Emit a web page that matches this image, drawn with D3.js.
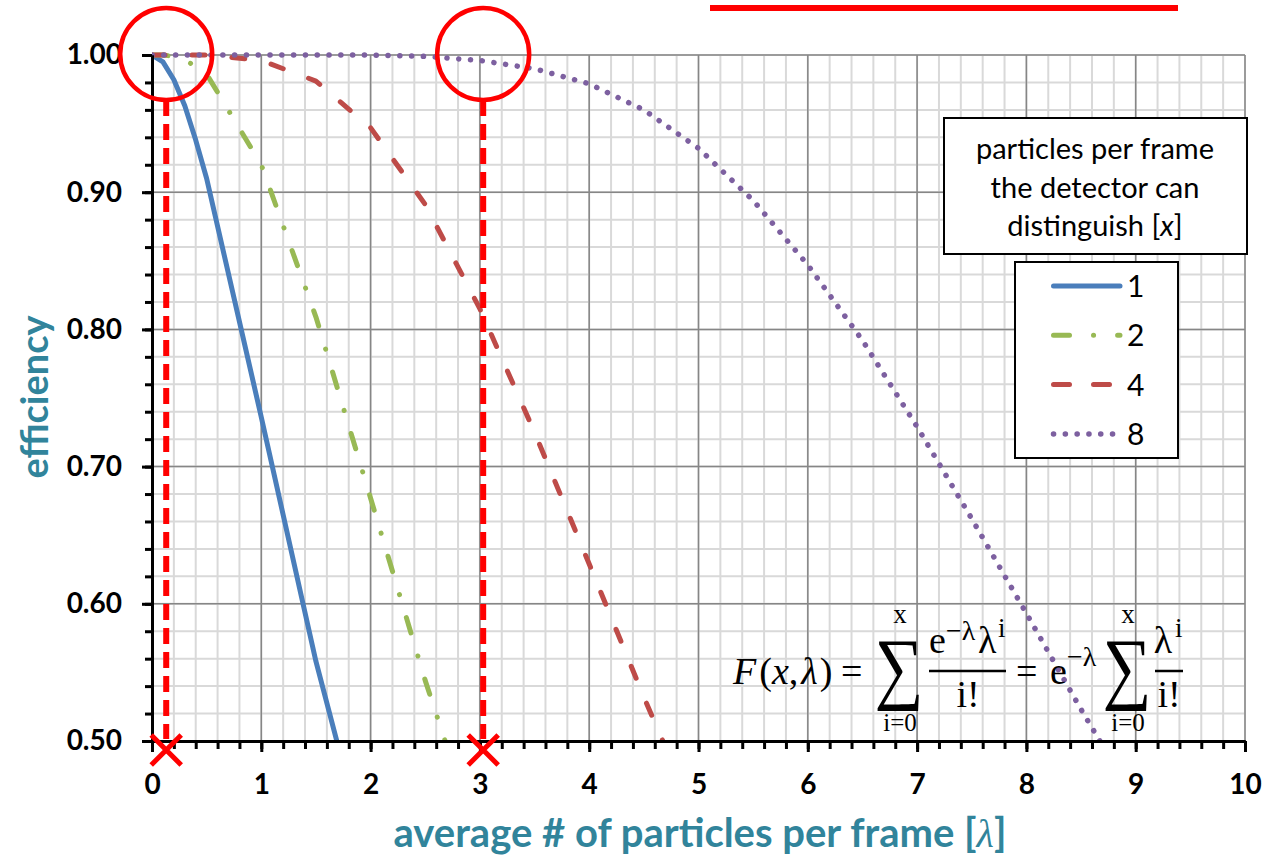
<!DOCTYPE html>
<html>
<head>
<meta charset="utf-8">
<script src="https://cdn.jsdelivr.net/npm/d3@7"></script>
<style>
body { margin: 0; background: #fff; }
text { font-family: Lato, "Open Sans", sans-serif; }
.math { font-family: "Liberation Serif", "DejaVu Serif", serif; }
</style>
</head>
<body>
<div id="viz"></div>
<script>
var width = 1274, height = 857;
var plotLeft = 152, plotRight = 1245, plotTop = 55, plotBottom = 741;

// average particles per frame (lambda)
var lambdas = [0, 0.1, 0.2, 0.3, 0.4, 0.5, 1, 1.5, 2, 2.5, 3, 3.5, 4, 4.5, 5, 5.5, 6, 6.5, 7, 7.5, 8, 8.5, 9];
// efficiency for x = 1, 2, 4, 8 particles per frame
var eff1 = [1.000, 0.995, 0.982, 0.963, 0.938, 0.910, 0.736, 0.558, 0.406, null, null, null, null, null, null, null, null, null, null, null, null, null, null];
var eff2 = [1.000, 1.000, 0.999, 0.996, 0.992, 0.986, 0.920, 0.809, 0.677, 0.544, 0.423, null, null, null, null, null, null, null, null, null, null, null, null];
var eff4 = [1.000, 1.000, 1.000, 1.000, 1.000, 1.000, 0.996, 0.981, 0.947, 0.891, 0.815, 0.725, 0.629, 0.532, 0.440, null, null, null, null, null, null, null, null];
var eff8 = [1.000, 1.000, 1.000, 1.000, 1.000, 1.000, 1.000, 1.000, 1.000, 0.999, 0.996, 0.990, 0.979, 0.960, 0.932, 0.894, 0.847, 0.792, 0.729, 0.662, 0.593, 0.523, 0.456];

var seriesNames = ["1", "2", "4", "8"];
var seriesValues = [eff1, eff2, eff4, eff8];
var seriesColors = ["#4a7ebb", "#98b954", "#be4b48", "#7d60a0"];
var seriesDash = [null, "16,24,0.1,24", "13,27", "0.1,11.7"];
var legendDash = [null, "16,24,0.1,24", "16,24", "0.1,11.7"];
var seriesWidth = [5, 5, 5, 5.5];

var xTickValues = [0, 1, 2, 3, 4, 5, 6, 7, 8, 9, 10];
var yTickValues = [0.5, 0.6, 0.7, 0.8, 0.9, 1.0];
var markedLambdas = [0.13, 3.03];
var legendTitle = ["particles per frame", "the detector can", "distinguish [x]"];

var x = d3.scaleLinear().domain([0, 10]).range([plotLeft, plotRight]);
var y = d3.scaleLinear().domain([0.5, 1]).range([plotBottom, plotTop]);

var svg = d3.select("#viz").append("svg")
	.attr("width", width)
	.attr("height", height);

svg.append("defs").append("clipPath")
	.attr("id", "plotclip")
	.append("rect")
	.attr("x", plotLeft).attr("y", plotTop - 15)
	.attr("width", plotRight - plotLeft).attr("height", plotBottom - plotTop + 15);

// grid
var minorX = x.ticks(50), minorY = y.ticks(25);
svg.append("g").selectAll("line")
	.data(minorX)
	.enter().append("line")
	.attr("x1", function(d) { return x(d); }).attr("x2", function(d) { return x(d); })
	.attr("y1", plotTop).attr("y2", plotBottom)
	.attr("stroke", "#d9d9d9").attr("stroke-width", 2);
svg.append("g").selectAll("line")
	.data(minorY)
	.enter().append("line")
	.attr("y1", function(d) { return y(d); }).attr("y2", function(d) { return y(d); })
	.attr("x1", plotLeft).attr("x2", plotRight)
	.attr("stroke", "#d9d9d9").attr("stroke-width", 2);
svg.append("g").selectAll("line")
	.data(xTickValues)
	.enter().append("line")
	.attr("x1", function(d) { return x(d); }).attr("x2", function(d) { return x(d); })
	.attr("y1", plotTop).attr("y2", plotBottom)
	.attr("stroke", "#868686").attr("stroke-width", 1.5);
svg.append("g").selectAll("line")
	.data(yTickValues)
	.enter().append("line")
	.attr("y1", function(d) { return y(d); }).attr("y2", function(d) { return y(d); })
	.attr("x1", plotLeft).attr("x2", plotRight)
	.attr("stroke", "#868686").attr("stroke-width", 1.5);

// curves
var line = d3.line()
	.defined(function(d) { return d[1] != null; })
	.x(function(d) { return x(d[0]); })
	.y(function(d) { return y(d[1]); });

var curves = svg.append("g").attr("clip-path", "url(#plotclip)");
seriesValues.forEach(function(vals, i) {
	var pts = lambdas.map(function(l, j) { return [l, vals[j]]; });
	curves.append("path")
		.attr("d", line(pts))
		.attr("fill", "none")
		.attr("stroke", seriesColors[i])
		.attr("stroke-width", seriesWidth[i])
		.attr("stroke-linecap", "round")
		.attr("stroke-linejoin", "round")
		.attr("stroke-dasharray", seriesDash[i]);
});

// axes
var yAxis = d3.axisLeft(y).tickValues(yTickValues).tickFormat(d3.format(".2f"))
	.tickSize(10).tickSizeOuter(0).tickPadding(20);
var yMinor = d3.axisLeft(y).tickValues(minorY).tickFormat("").tickSize(7).tickSizeOuter(0);
var xAxis = d3.axisBottom(x).tickValues(xTickValues).tickFormat(d3.format("d"))
	.tickSize(11).tickSizeOuter(0).tickPadding(22);
var xMinor = d3.axisBottom(x).tickValues(minorX).tickFormat("").tickSize(8).tickSizeOuter(0);

[[yMinor, "translate(" + plotLeft + ",0)"], [yAxis, "translate(" + plotLeft + ",0)"],
 [xMinor, "translate(0," + plotBottom + ")"], [xAxis, "translate(0," + plotBottom + ")"]].forEach(function(a) {
	var g = svg.append("g").attr("transform", a[1]).call(a[0]);
	g.select(".domain").attr("stroke", "#000").attr("stroke-width", 3);
	g.selectAll(".tick line").attr("stroke", "#000").attr("stroke-width", 3);
	g.selectAll("text")
		.style("font-family", "Lato, sans-serif")
		.style("font-weight", "bold")
		.style("font-size", "28px")
		.attr("fill", "#000");
});

// axis titles
svg.append("text")
	.attr("transform", "translate(48,397) rotate(-90)")
	.attr("text-anchor", "middle")
	.style("font-weight", "bold").style("font-size", "38px")
	.attr("fill", "#31849b")
	.text("efficiency");

var xt = svg.append("text")
	.attr("x", 700).attr("y", 847)
	.attr("text-anchor", "middle")
	.style("font-weight", "bold").style("font-size", "40px")
	.attr("fill", "#31849b");
xt.append("tspan").text("average # of particles per frame [");
xt.append("tspan").attr("class", "math").style("font-style", "italic").style("font-weight", "normal").text("λ");
xt.append("tspan").text("]");

// legend
svg.append("rect")
	.attr("x", 944).attr("y", 118).attr("width", 303).attr("height", 136)
	.attr("fill", "#fff").attr("stroke", "#000").attr("stroke-width", 2);
legendTitle.forEach(function(t, i) {
	var tx = svg.append("text")
		.attr("x", 1095).attr("y", 159 + i * 38.5)
		.attr("text-anchor", "middle")
		.style("font-size", "29px").attr("fill", "#000");
	if (i == 2) {
		tx.append("tspan").text("distinguish [");
		tx.append("tspan").style("font-style", "italic").text("x");
		tx.append("tspan").text("]");
	} else {
		tx.text(t);
	}
});
svg.append("rect")
	.attr("x", 1015).attr("y", 262).attr("width", 163).attr("height", 196)
	.attr("fill", "#fff").attr("stroke", "#000").attr("stroke-width", 2);
seriesNames.forEach(function(n, i) {
	var ly = 286 + i * 49.3;
	svg.append("line")
		.attr("x1", 1053.5).attr("x2", i == 3 ? 1115 : 1120)
		.attr("y1", ly).attr("y2", ly)
		.attr("stroke", seriesColors[i])
		.attr("stroke-width", seriesWidth[i])
		.attr("stroke-linecap", "round")
		.attr("stroke-dasharray", legendDash[i]);
	svg.append("text")
		.attr("x", 1127).attr("y", ly + 11)
		.style("font-size", "30px").attr("fill", "#000")
		.text(n);
});

// formula
var f = svg.append("g").attr("class", "math").attr("fill", "#000");
function mt(tx, ty, s, size, anchor, italic) {
	return f.append("text")
		.attr("class", "math")
		.attr("x", tx).attr("y", ty)
		.attr("text-anchor", anchor || "start")
		.style("font-size", size + "px")
		.style("font-style", italic ? "italic" : "normal")
		.text(s);
}
function sigma(cx) {
	f.append("text")
		.attr("class", "math")
		.attr("transform", "translate(" + cx + ",694) scale(0.86,1)")
		.attr("text-anchor", "middle")
		.style("font-size", "80px")
		.text("∑");
	mt(cx + 1, 623, "x", 27, "middle");
	mt(cx + 1, 731, "i=0", 25, "middle");
}
var lhs = f.append("text").attr("class", "math").attr("x", 733).attr("y", 684).style("font-size", "38px");
lhs.append("tspan").style("font-style", "italic").text("F");
lhs.append("tspan").attr("dx", 3).text("(");
lhs.append("tspan").style("font-style", "italic").text("x");
lhs.append("tspan").text(",");
lhs.append("tspan").attr("dx", 3).style("font-style", "italic").text("λ");
lhs.append("tspan").attr("dx", 2).text(")");
mt(841, 684, "=", 38);
sigma(899);
mt(929, 653, "e", 38);
mt(946, 640, "−λ", 28);
mt(978, 653, "λ", 38);
mt(998, 637, "i", 27);
f.append("line").attr("x1", 929).attr("x2", 1006).attr("y1", 671).attr("y2", 671)
	.attr("stroke", "#000").attr("stroke-width", 2.5);
mt(968, 707, "i!", 38, "middle");
mt(1016, 684, "=", 38);
mt(1050, 684, "e", 38);
mt(1067, 666, "−λ", 28);
sigma(1127);
mt(1163, 653, "λ", 38, "middle");
mt(1175, 637, "i", 27);
f.append("line").attr("x1", 1155).attr("x2", 1183).attr("y1", 671).attr("y2", 671)
	.attr("stroke", "#000").attr("stroke-width", 2.5);
mt(1169, 707, "i!", 38, "middle");

// annotations
var ann = svg.append("g");
markedLambdas.forEach(function(l) {
	var cx = x(l);
	ann.append("circle")
		.attr("cx", cx).attr("cy", 54).attr("r", 46)
		.attr("fill", "none").attr("stroke", "#ff0000").attr("stroke-width", 4.5);
	ann.append("line")
		.attr("x1", cx).attr("x2", cx).attr("y1", 100).attr("y2", plotBottom - 2)
		.attr("stroke", "#ff0000").attr("stroke-width", 6)
		.attr("stroke-dasharray", "16,8");
	ann.append("path")
		.attr("d", "M" + (cx - 15) + "," + (750 - 15) + "L" + (cx + 15) + "," + (750 + 15) +
			"M" + (cx + 15) + "," + (750 - 15) + "L" + (cx - 15) + "," + (750 + 15))
		.attr("stroke", "#ff0000").attr("stroke-width", 5);
});
ann.append("rect")
	.attr("x", 710).attr("y", 5).attr("width", 468).attr("height", 6)
	.attr("fill", "#ff0000");
</script>
</body>
</html>
